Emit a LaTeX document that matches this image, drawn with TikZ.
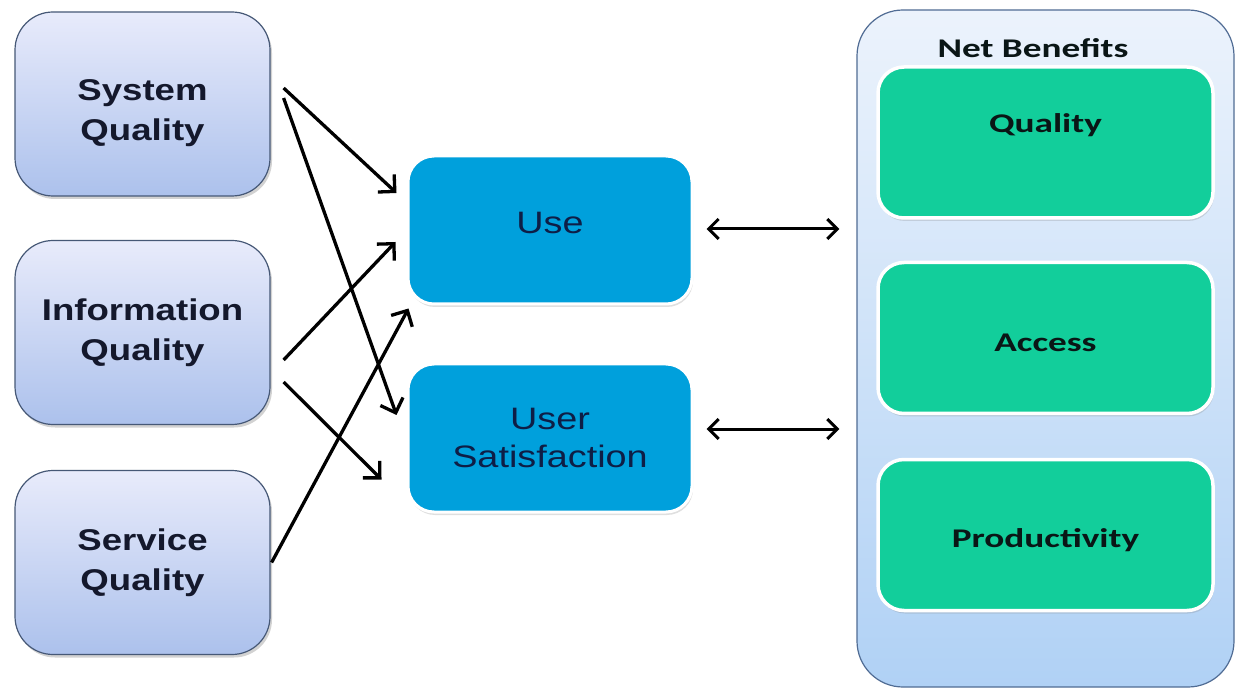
\documentclass[tikz,border=0pt]{standalone}
\usepackage{fontspec}
\usetikzlibrary{arrows.meta,shadows,calc}
\newfontfamily\arialw[FakeStretch=1.22]{Liberation Sans}
\newfontfamily\calibw[FakeStretch=1.38]{Carlito}
\definecolor{lefttop}{RGB}{232,235,251}
\definecolor{leftbot}{RGB}{172,193,236}
\definecolor{leftline}{RGB}{70,88,118}
\definecolor{midblue}{RGB}{0,160,220}
\definecolor{green}{RGB}{18,206,155}
\definecolor{nbtop}{RGB}{236,243,252}
\definecolor{nbbot}{RGB}{176,209,245}
\definecolor{nbline}{RGB}{80,108,148}
\definecolor{lefttext}{RGB}{20,24,44}
\definecolor{midtext}{RGB}{14,30,70}
\definecolor{righttext}{RGB}{10,22,22}
\tikzset{
  ltext/.style={font=\arialw\bfseries\fontsize{30}{40}\selectfont, text=lefttext, align=center},
  leftbox/.style={rounded corners=38pt, minimum width=255pt, minimum height=184pt,
    top color=lefttop, bottom color=leftbot, draw=leftline, line width=1.2pt,
    drop shadow={shadow xshift=2pt, shadow yshift=-3pt, opacity=0.35}, ltext},
  mtext/.style={font=\arialw\fontsize{31}{38}\selectfont, text=midtext, align=center},
  midbox/.style={rounded corners=26pt, minimum width=284pt, minimum height=148pt,
    fill=midblue, draw=white, line width=3pt,
    drop shadow={shadow xshift=1pt, shadow yshift=-3pt, opacity=0.25}, mtext},
  nbbox/.style={rounded corners=46pt, minimum width=377pt, minimum height=677pt,
    top color=nbtop, bottom color=nbbot, draw=nbline, line width=1.2pt},
  greenbox/.style={rounded corners=26pt, minimum width=335pt, minimum height=151pt,
    fill=green, draw=white, line width=3.5pt,
    drop shadow={shadow xshift=1pt, shadow yshift=-3pt, opacity=0.25}},
  rtext/.style={font=\calibw\bfseries\fontsize{27}{32}\selectfont, text=righttext},
  conn/.style={line width=3.3pt, draw=black, -{Straight Barb[length=12pt,width=24pt]}},
  dconn/.style={line width=3pt, draw=black, {Straight Barb[length=10pt,width=20pt]}-{Straight Barb[length=10pt,width=20pt]}}
}
\begin{document}
\begin{tikzpicture}[x=1pt,y=-1pt]
\useasboundingbox (0,0) rectangle (1237,692);
\fill[white] (0,0) rectangle (1237,692);
% left boxes
\node[leftbox] (sys) at (142.5,104) {};
\node[ltext] (syst) at (142.5,113) {System\\Quality};
\node[leftbox] (info) at (142.5,332.5) {Information\\Quality};
\node[leftbox] (svc) at (142.5,562.5) {Service\\Quality};
% middle boxes
\node[midbox] (use) at (550,230) {};
\node[mtext] (uset) at (550,223) {Use};
\node[midbox] (us) at (550,438) {User\\Satisfaction};
% right container
\node[nbbox] (nb) at (1045.5,348.5) {};
\node[rtext] (nbt) at (1033,48) {Net Benefits};
\node[greenbox] (q) at (1045.5,142.5) {};
\node[rtext] (qt) at (1045.5,125) {Quality};
\node[greenbox] (acc) at (1045.5,338) {};
\node[rtext] (acct) at (1045.5,343) {Access};
\node[greenbox] (prod) at (1045.5,535) {};
\node[rtext] (prodt) at (1045.5,540) {Productivity};
% connectors
\draw[conn] ([xshift=13pt,yshift=16pt]sys.east) -- ([xshift=-10pt,yshift=37pt]use.west);
\draw[conn] ([xshift=13pt,yshift=6pt]sys.east) -- ([xshift=-10pt,yshift=23pt]us.west);
\draw[conn] ([xshift=13pt,yshift=-27.5pt]info.east) -- ([xshift=-11pt,yshift=-12pt]use.west);
\draw[conn] ([xshift=13pt,yshift=-49.5pt]info.east) -- ([xshift=-25pt,yshift=-41.5pt]us.west);
\draw[conn] ([xshift=1pt]svc.east) -- ([xshift=2pt,yshift=-3pt]use.south west);
\draw[dconn] ([xshift=13pt,yshift=1pt]use.east) -- ($(use.east -| nb.west)+(-17pt,1pt)$);
\draw[dconn] ([xshift=13pt,yshift=9pt]us.east) -- ($(us.east -| nb.west)+(-17pt,9pt)$);
\end{tikzpicture}
\end{document}
